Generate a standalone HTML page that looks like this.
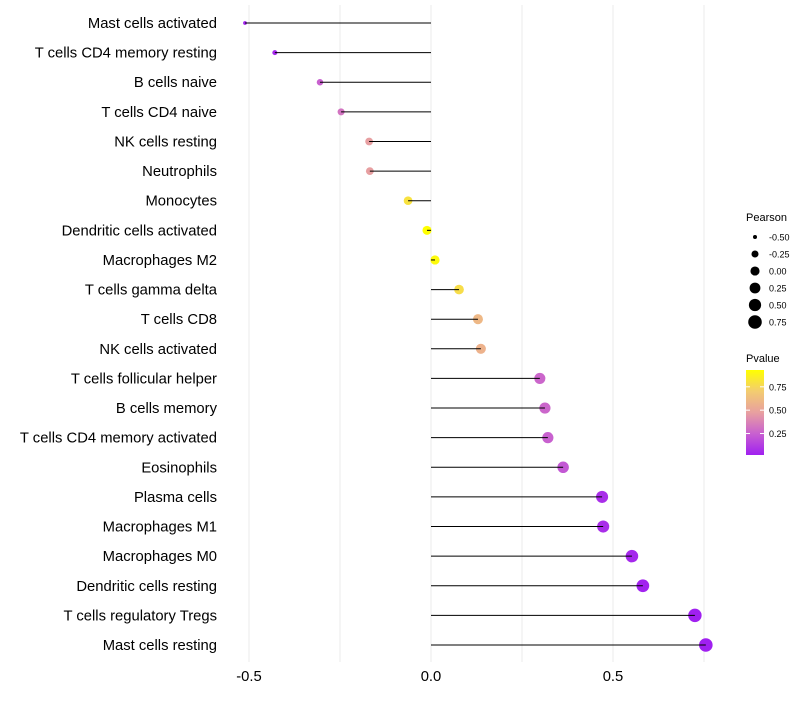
<!DOCTYPE html>
<html><head><meta charset="utf-8"><style>
body{margin:0;background:#fff;font-family:"Liberation Sans",sans-serif}
</style></head><body>
<svg id="chart" width="800" height="700" xmlns="http://www.w3.org/2000/svg">
<defs><linearGradient id="pg" x1="0" y1="1" x2="0" y2="0">
<stop offset="0" stop-color="#a020f0"/><stop offset="0.25" stop-color="#c860d0"/><stop offset="0.5" stop-color="#e8a0a0"/><stop offset="0.75" stop-color="#f3cc70"/><stop offset="1" stop-color="#ffff00"/>
</linearGradient></defs>
<g id="grid"></g>
<g id="rows"></g>
<g id="xaxis"></g>
<g id="legend">
<text x="746" y="221" font-size="11">Pearson</text>
<text x="746" y="362" font-size="11">Pvalue</text>
<rect x="746" y="370" width="18" height="85" fill="url(#pg)"/>
</g>
</svg>
<script>
const cells=["Mast cells activated","T cells CD4 memory resting","B cells naive","T cells CD4 naive","NK cells resting","Neutrophils","Monocytes","Dendritic cells activated","Macrophages M2","T cells gamma delta","T cells CD8","NK cells activated","T cells follicular helper","B cells memory","T cells CD4 memory activated","Eosinophils","Plasma cells","Macrophages M1","Macrophages M0","Dendritic cells resting","T cells regulatory  Tregs ","Mast cells resting"];
const pearson=[-0.511,-0.429,-0.305,-0.247,-0.170,-0.168,-0.063,-0.011,0.011,0.077,0.129,0.137,0.299,0.313,0.321,0.363,0.470,0.473,0.552,0.582,0.725,0.755];
const pvalue=[0.03,0.05,0.25,0.32,0.47,0.47,0.8,0.93,0.91,0.78,0.6,0.57,0.27,0.27,0.25,0.22,0.07,0.07,0.05,0.03,0.02,0.02];
const xTicks=[-0.5,0,0.5];
const xTickLabels=["-0.5","0.0","0.5"];
const sizeLegend=[-0.5,-0.25,0,0.25,0.5,0.75];
const sizeLegendLabels=["-0.50","-0.25","0.00","0.25","0.50","0.75"];
const pLegend=[0.75,0.5,0.25];
const pLegendLabels=["0.75","0.50","0.25"];
const NS="http://www.w3.org/2000/svg";
const X=v=>431+v*364;
const Y=i=>23+i*(622/(cells.length-1));
const R=v=>Math.sqrt(Math.max(1,20.8+33.6*v));
const stops=[[0,[160,32,240]],[0.25,[200,96,208]],[0.5,[232,160,160]],[0.75,[243,204,112]],[1,[255,255,0]]];
const pmin=0.02,pmax=0.93;
function col(p){let t=(p-pmin)/(pmax-pmin);t=Math.max(0,Math.min(1,t));
for(let k=1;k<stops.length;k++){if(t<=stops[k][0]){const a=stops[k-1],b=stops[k],f=(t-a[0])/(b[0]-a[0]);
return "rgb("+a[1].map((c,j)=>Math.round(c+(b[1][j]-c)*f)).join(",")+")";}}return "rgb(255,255,0)";}
const PY=p=>455-(p-pmin)/(pmax-pmin)*85;
function mk(t,a,parent){const e=document.createElementNS(NS,t);for(const k in a)e.setAttribute(k,a[k]);parent.appendChild(e);return e;}
const grid=document.getElementById('grid');
[-0.5,-0.25,0,0.25,0.5,0.75].forEach(v=>{const l=mk('line',{x1:X(v),x2:X(v),y1:5,y2:662,stroke:'#ebebeb','stroke-width':1},grid);

});
const rows=document.getElementById('rows');
cells.forEach((c,i)=>{const y=Y(i);
const t=mk('text',{x:217,y:y+5,'font-size':14.8,'text-anchor':'end',fill:'#000'},rows);t.textContent=c;


const d=mk('circle',{cx:X(pearson[i]),cy:y,r:R(pearson[i]),fill:col(pvalue[i])},rows);


const s=mk('line',{x1:X(0),x2:X(pearson[i]),y1:y,y2:y,stroke:'#000','stroke-width':1},rows);

});
const xa=document.getElementById('xaxis');
xTicks.forEach((v,i)=>{const t=mk('text',{x:X(v),y:681,'font-size':14.8,'text-anchor':'middle',fill:'#000'},xa);t.textContent=xTickLabels[i];

});
const lg=document.getElementById('legend');
sizeLegend.forEach((v,i)=>{const y=237+i*17;
const c=mk('circle',{cx:755,cy:y,r:R(v),fill:'#000'},lg);


const t=mk('text',{x:769,y:y+3.5,'font-size':9},lg);t.textContent=sizeLegendLabels[i];

});
pLegend.forEach((p,i)=>{const y=PY(p);
mk('line',{x1:746,x2:750,y1:y,y2:y,stroke:'#fff','stroke-width':1},lg);
mk('line',{x1:760,x2:764,y1:y,y2:y,stroke:'#fff','stroke-width':1},lg);
const t=mk('text',{x:769,y:y+3.5,'font-size':9},lg);t.textContent=pLegendLabels[i];

});
</script>
</body></html>
